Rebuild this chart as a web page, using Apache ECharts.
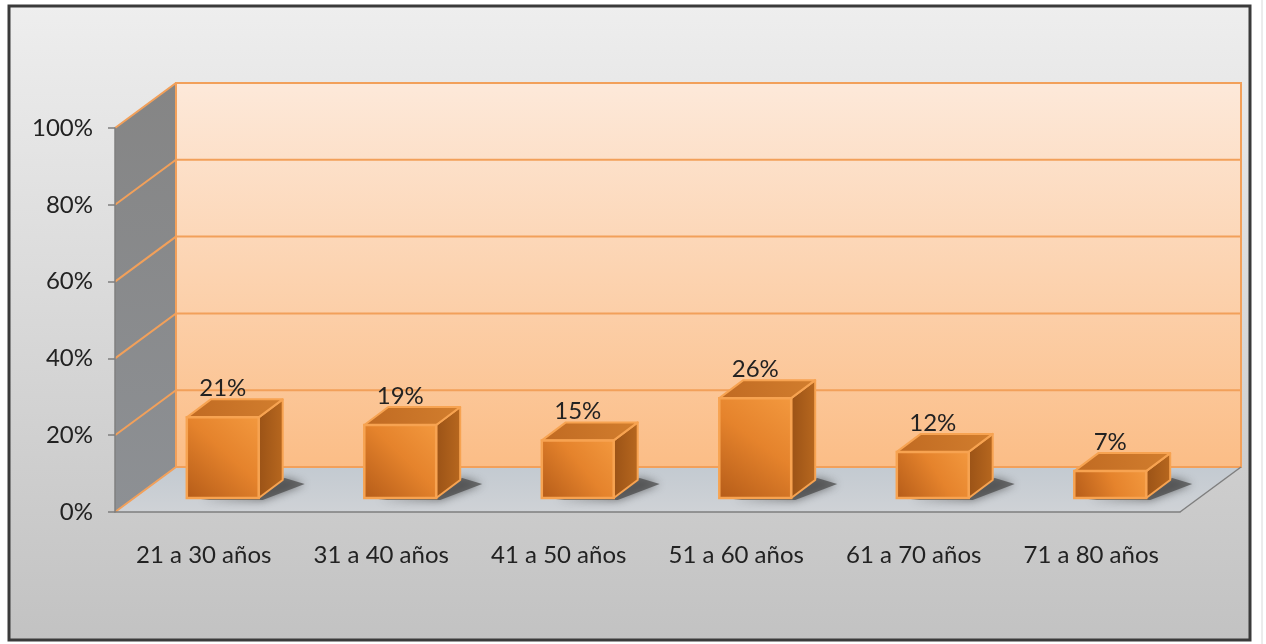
<!DOCTYPE html>
<html>
<head>
<meta charset="utf-8">
<script src="https://cdn.jsdelivr.net/npm/echarts@6/dist/echarts.min.js"></script>
<style>
  html, body { margin: 0; padding: 0; background: #ffffff; }
  #chart { width: 1266px; height: 644px; }
</style>
</head>
<body>
<div id="chart"></div>
<script>
// Age groups and their share of respondents (%)
const categories = ['21 a 30 años', '31 a 40 años', '41 a 50 años', '51 a 60 años', '61 a 70 años', '71 a 80 años'];
const shares = [21, 19, 15, 26, 12, 7];
const valueTicks = [0, 20, 40, 60, 80, 100];

const FONT = 'Lato, "Open Sans", sans-serif';
// 3D projection offsets (pixels)
const WALL_DX = 61, WALL_DY = -45;   // depth of the whole plot box
const BAR_DX = 19, BAR_DY = -14;     // front face of the bars inside the box
const DEPTH_DX = 24, DEPTH_DY = -18; // thickness of each bar

const chart = echarts.init(document.getElementById('chart'), null, { renderer: 'canvas' });

function renderWalls(params, api) {
  const cs = params.coordSys;
  const x0 = cs.x, x1 = cs.x + cs.width;
  const yTop = cs.y, yBot = cs.y + cs.height;
  const children = [];
  // side wall
  children.push({
    type: 'polygon',
    shape: { points: [[x0, yBot], [x0, yTop], [x0 + WALL_DX, yTop + WALL_DY], [x0 + WALL_DX, yBot + WALL_DY]] },
    style: { fill: new echarts.graphic.LinearGradient(0, 0, 0, 1, [
      { offset: 0, color: '#858585' }, { offset: 1, color: '#8d9094' }]) }
  });
  // floor
  children.push({
    type: 'polygon',
    shape: { points: [[x0, yBot], [x1, yBot], [x1 + WALL_DX, yBot + WALL_DY], [x0 + WALL_DX, yBot + WALL_DY]] },
    style: { fill: new echarts.graphic.LinearGradient(0, 0, 0, 1, [
      { offset: 0, color: '#c3cad1' }, { offset: 1, color: '#cfd2d6' }]) }
  });
  // back wall
  children.push({
    type: 'rect',
    shape: { x: x0 + WALL_DX, y: yTop + WALL_DY, width: x1 - x0, height: yBot - yTop },
    style: { fill: new echarts.graphic.LinearGradient(0, 0, 0, 1, [
      { offset: 0, color: '#fde9da' }, { offset: 1, color: '#fbbd86' }]),
      stroke: '#f2a05a', lineWidth: 2 }
  });
  // grid lines on back wall and side wall
  valueTicks.forEach(function (v) {
    const y = api.coord([0, v])[1];
    children.push({
      type: 'polyline',
      shape: { points: [[x0, y], [x0 + WALL_DX, y + WALL_DY], [x1 + WALL_DX, y + WALL_DY]] },
      style: { stroke: '#f2a05a', lineWidth: 2, fill: null }
    });
  });
  // right edge of floor
  children.push({
    type: 'line',
    shape: { x1: x1, y1: yBot, x2: x1 + WALL_DX, y2: yBot + WALL_DY },
    style: { stroke: '#7f7f7f', lineWidth: 1.5 }
  });
  return { type: 'group', children: children };
}

function renderBar(params, api) {
  const idx = api.value(0), val = api.value(1);
  const top = api.coord([idx, val]);
  const base = api.coord([idx, 0]);
  const w = api.size([1, 0])[0] * 0.405;
  const x = top[0] - w / 2 + BAR_DX;
  const y = top[1] + BAR_DY;
  const yb = base[1] + BAR_DY;
  const edge = '#f7a351';
  return {
    type: 'group',
    children: [
      { // shadow on the floor
        type: 'polygon',
        shape: { points: [[x + 14, yb + 2], [x + w + 4, yb + 2], [x + w + DEPTH_DX + 22, yb + DEPTH_DY + 4], [x + w + DEPTH_DX + 2, yb + DEPTH_DY - 2], [x + w - 6, yb - 4]] },
        style: { fill: 'rgba(70,70,70,0.7)', shadowBlur: 10, shadowColor: 'rgba(50,50,50,0.9)' }
      },
      { // right face
        type: 'polygon',
        shape: { points: [[x + w, y], [x + w + DEPTH_DX, y + DEPTH_DY], [x + w + DEPTH_DX, yb + DEPTH_DY], [x + w, yb]] },
        style: { fill: new echarts.graphic.LinearGradient(0, 0, 1, 0, [
          { offset: 0, color: '#9a5216' }, { offset: 1, color: '#b8681f' }]),
          stroke: edge, lineWidth: 2, lineJoin: 'round' }
      },
      { // top face
        type: 'polygon',
        shape: { points: [[x, y], [x + w, y], [x + w + DEPTH_DX, y + DEPTH_DY], [x + DEPTH_DX, y + DEPTH_DY]] },
        style: { fill: new echarts.graphic.LinearGradient(0, 1, 1, 0, [
          { offset: 0, color: '#c06a22' }, { offset: 1, color: '#d27e2e' }]),
          stroke: edge, lineWidth: 2, lineJoin: 'round' }
      },
      { // front face
        type: 'rect',
        shape: { x: x, y: y, width: w, height: yb - y },
        style: { fill: new echarts.graphic.LinearGradient(0, 1, 1, 0, [
          { offset: 0, color: '#b45b18' }, { offset: 0.55, color: '#e5832c' }, { offset: 1, color: '#f3993f' }]),
          stroke: edge, lineWidth: 2.5 }
      },
      { // value label
        type: 'text',
        style: {
          text: val + '%', x: top[0] + BAR_DX, y: y + DEPTH_DY + 1,
          align: 'center', verticalAlign: 'bottom',
          fill: '#222222', font: '24px ' + FONT
        }
      }
    ]
  };
}

const option = {
  animation: false,
  backgroundColor: 'transparent',
  graphic: [{
    type: 'rect', z: -10,
    shape: { x: 9, y: 6, width: 1241, height: 634 },
    style: {
      fill: new echarts.graphic.LinearGradient(0, 0, 0, 1, [
        { offset: 0, color: '#eeeeee' }, { offset: 1, color: '#c2c2c2' }]),
      stroke: '#3a3a3a', lineWidth: 3
    }
  }, {
    type: 'line', z: -10,
    shape: { x1: 1262, y1: 0, x2: 1262, y2: 644 },
    style: { stroke: '#d8d8d8', lineWidth: 1 }
  }],
  grid: { left: 115, top: 128, width: 1065, height: 384 },
  xAxis: {
    type: 'category',
    data: categories,
    axisLine: { lineStyle: { color: '#7f7f7f', width: 1.5 } },
    axisTick: { length: 7, lineStyle: { color: '#7f7f7f', width: 1.5 } },
    axisLabel: { color: '#222222', fontSize: 24, fontFamily: FONT, margin: 31 },
    splitLine: { show: false },
    z: 1
  },
  yAxis: {
    type: 'value', min: 0, max: 100, interval: 20,
    axisLine: { show: true, lineStyle: { color: '#7f7f7f', width: 1.5 } },
    axisTick: { show: true, length: 7, lineStyle: { color: '#7f7f7f', width: 1.5 } },
    axisLabel: { color: '#222222', fontSize: 24, fontFamily: FONT, formatter: '{value}%', margin: 22 },
    splitLine: { show: false },
    z: 1
  },
  series: [
    {
      type: 'custom', z: 0, silent: true, clip: false,
      renderItem: renderWalls,
      data: [[0, 0]]
    },
    {
      type: 'custom', z: 5, clip: false,
      renderItem: renderBar,
      data: shares.map(function (v, i) { return [i, v]; })
    }
  ]
};

chart.setOption(option);
</script>
</body>
</html>
